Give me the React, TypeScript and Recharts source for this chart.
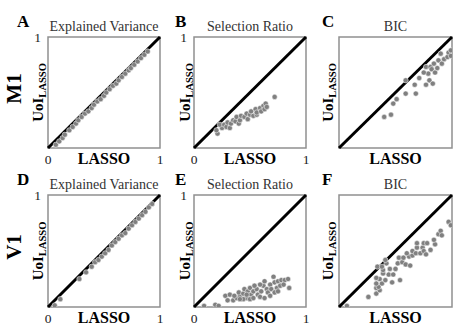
import React from "react";
import { ScatterChart, Scatter, XAxis, YAxis, ReferenceArea, ReferenceLine } from "recharts";

type Pt = [number, number];

// [LASSO, UoI_LASSO] pairs
const evM1: Pt[] = [
  [0.07, 0.03], [0.10, 0.06], [0.13, 0.09], [0.15, 0.12], [0.19, 0.16], [0.22, 0.19],
  [0.25, 0.22], [0.27, 0.25], [0.30, 0.28], [0.33, 0.31], [0.36, 0.33], [0.39, 0.36],
  [0.41, 0.39], [0.44, 0.42], [0.47, 0.44], [0.50, 0.47], [0.52, 0.50], [0.55, 0.53],
  [0.58, 0.56], [0.61, 0.58], [0.63, 0.61], [0.66, 0.64], [0.69, 0.67], [0.72, 0.70],
  [0.74, 0.72], [0.77, 0.75], [0.80, 0.78], [0.83, 0.81], [0.86, 0.84], [0.89, 0.87],
];

const srM1: Pt[] = [
  [0.21, 0.13], [0.20, 0.16], [0.25, 0.18], [0.23, 0.21], [0.27, 0.21], [0.29, 0.19],
  [0.30, 0.23], [0.32, 0.18], [0.33, 0.22], [0.35, 0.25], [0.37, 0.24], [0.38, 0.28],
  [0.40, 0.22], [0.41, 0.25], [0.42, 0.29], [0.45, 0.28], [0.47, 0.31], [0.48, 0.26],
  [0.50, 0.30], [0.51, 0.33], [0.53, 0.29], [0.55, 0.35], [0.56, 0.30], [0.56, 0.32],
  [0.59, 0.36], [0.60, 0.33], [0.62, 0.38], [0.63, 0.35], [0.64, 0.40], [0.65, 0.37],
  [0.72, 0.46],
];

const bicM1: Pt[] = [
  [0.40, 0.28], [0.46, 0.30], [0.48, 0.40], [0.51, 0.44], [0.59, 0.49], [0.68, 0.49],
  [0.59, 0.61], [0.67, 0.57], [0.71, 0.63], [0.77, 0.57], [0.80, 0.61], [0.83, 0.58],
  [0.79, 0.67], [0.75, 0.68], [0.77, 0.73], [0.81, 0.73], [0.82, 0.71], [0.84, 0.76],
  [0.85, 0.68], [0.87, 0.72], [0.88, 0.79], [0.91, 0.76], [0.90, 0.85], [0.93, 0.80],
  [0.96, 0.82], [0.97, 0.86], [0.99, 0.83], [0.99, 0.88],
];

const evV1: Pt[] = [
  [0.06, 0.015], [0.11, 0.07], [0.28, 0.25], [0.34, 0.31], [0.39, 0.36], [0.42, 0.40],
  [0.45, 0.42], [0.48, 0.45], [0.51, 0.48], [0.54, 0.51], [0.57, 0.55], [0.60, 0.58],
  [0.63, 0.61], [0.66, 0.64], [0.69, 0.66], [0.72, 0.70], [0.75, 0.73], [0.78, 0.76],
  [0.81, 0.79], [0.84, 0.82], [0.87, 0.85], [0.90, 0.89], [0.93, 0.92],
];

const srV1: Pt[] = [
  [0.09, 0.01], [0.19, 0.02], [0.22, 0.01], [0.28, 0.10], [0.32, 0.11], [0.30, 0.06],
  [0.35, 0.06], [0.38, 0.08], [0.41, 0.10], [0.40, 0.13], [0.44, 0.12], [0.45, 0.16],
  [0.48, 0.14], [0.50, 0.17], [0.51, 0.11], [0.53, 0.14], [0.47, 0.08], [0.44, 0.07],
  [0.56, 0.16], [0.57, 0.11], [0.60, 0.14], [0.62, 0.19], [0.63, 0.23], [0.65, 0.16],
  [0.66, 0.13], [0.68, 0.20], [0.69, 0.16], [0.71, 0.27], [0.72, 0.22], [0.74, 0.17],
  [0.75, 0.23], [0.77, 0.19], [0.78, 0.24], [0.81, 0.24], [0.84, 0.25], [0.85, 0.17],
  [0.50, 0.07], [0.53, 0.08], [0.59, 0.09], [0.63, 0.08], [0.68, 0.10], [0.59, 0.20],
  [0.54, 0.19], [0.47, 0.11], [0.36, 0.10], [0.41, 0.07], [0.72, 0.13], [0.75, 0.14],
  [0.80, 0.20],
];

const bicV1: Pt[] = [
  [0.07, 0.01], [0.26, 0.09], [0.33, 0.12], [0.36, 0.15], [0.33, 0.17], [0.35, 0.18],
  [0.33, 0.21], [0.38, 0.21], [0.36, 0.25], [0.33, 0.26], [0.41, 0.24], [0.47, 0.22],
  [0.54, 0.24], [0.44, 0.29], [0.48, 0.29], [0.39, 0.30], [0.45, 0.34], [0.39, 0.33],
  [0.50, 0.34], [0.34, 0.36], [0.38, 0.36], [0.42, 0.39], [0.41, 0.42], [0.52, 0.39],
  [0.56, 0.40], [0.59, 0.38], [0.63, 0.37], [0.53, 0.44], [0.57, 0.44], [0.62, 0.45],
  [0.65, 0.46], [0.60, 0.48], [0.65, 0.50], [0.68, 0.48], [0.69, 0.53], [0.69, 0.57],
  [0.74, 0.53], [0.75, 0.57], [0.78, 0.57], [0.72, 0.48], [0.75, 0.50], [0.77, 0.47],
  [0.81, 0.51], [0.85, 0.56], [0.84, 0.60], [0.88, 0.65], [0.90, 0.68], [0.91, 0.64],
  [0.97, 0.76], [0.99, 0.73],
];

const rowLabels = ["M1", "V1"];
const panelLetters = ["A", "B", "C", "D", "E", "F"];
const panelTitles = ["Explained Variance", "Selection Ratio", "BIC"];

const M = 20;
const SERIF = "'Liberation Serif', 'DejaVu Serif', serif";
const colLeft = [48, 194, 339];
const colWidth = [112, 112, 113];
const rowTop = [37, 195];
const rowHeight = [111, 112];

const Dot = (p: any) => (
  <circle cx={p.cx} cy={p.cy} r={2.6} fill="#808080" stroke="#ffffff" strokeWidth={0.5} />
);

function Panel({ row, col, data, ticks }: { row: number; col: number; data: Pt[]; ticks: boolean }) {
  const w = colWidth[col];
  const h = rowHeight[row];
  const pts = data.map(([x, y]) => ({ lasso: x, uoi: y }));
  const margin = ticks ? { top: M, right: M, bottom: 0, left: 0 } : { top: M, right: M, bottom: M, left: M };
  return (
    <div style={{ position: "absolute", left: colLeft[col] - M, top: rowTop[row] - M }}>
      <ScatterChart width={w + 2 * M} height={h + 2 * M} margin={margin} style={{ overflow: "visible" }}>
        <XAxis
          type="number"
          dataKey="lasso"
          domain={[0, 1]}
          ticks={[0, 1]}
          hide={!ticks}
          height={M}
          axisLine={false}
          tickLine={false}
          allowDataOverflow
          tick={(t: any) => (
            <text x={t.x} y={h + M + 16} textAnchor="middle" fontFamily={SERIF} fontSize={13.5} fill="#222">
              {t.payload.value}
            </text>
          )}
        />
        <YAxis
          type="number"
          dataKey="uoi"
          domain={[0, 1]}
          ticks={[1]}
          hide={!ticks}
          width={M}
          axisLine={false}
          tickLine={false}
          allowDataOverflow
          tick={(t: any) => (
            <text x={M - 7} y={t.y + 5} textAnchor="end" fontFamily={SERIF} fontSize={13.5} fill="#222">
              {t.payload.value}
            </text>
          )}
        />
        <ReferenceArea x1={0} x2={1} y1={0} y2={1} fill="none" fillOpacity={0} stroke="#909090" strokeWidth={1.5} />
        <Scatter data={pts} isAnimationActive={false} shape={Dot} />
        <ReferenceLine segment={[{ x: 0, y: 0 }, { x: 1, y: 1 }]} stroke="#000" strokeWidth={3} />
      </ScatterChart>
    </div>
  );
}

export default function App() {
  const series = [
    [evM1, srM1, bicM1],
    [evV1, srV1, bicV1],
  ];
  return (
    <div style={{ position: "absolute", left: 0, top: 0, width: 453, height: 328, background: "#fff", overflow: "hidden" }}>
      {series.map((rowData, r) =>
        rowData.map((d, c) => <Panel key={`${r}-${c}`} row={r} col={c} data={d} ticks={c < 2} />)
      )}
      <svg width={453} height={328} style={{ position: "absolute", left: 0, top: 0, pointerEvents: "none" }}>
        {rowTop.map((top, r) => {
          const bottom = top + rowHeight[r];
          const midY = (top + bottom) / 2;
          return (
            <g key={r} fontFamily={SERIF}>
              <text transform={`translate(21, ${midY - 4}) rotate(-90)`} textAnchor="middle" fontSize={21} fontWeight="bold" fill="#000">
                {rowLabels[r]}
              </text>
              {colLeft.map((left, c) => {
                const cx = left + colWidth[c] / 2;
                return (
                  <g key={c}>
                    <text x={[17, 175, 322][c]} y={top - 10} fontSize={17} fontWeight="bold" fill="#000">
                      {panelLetters[r * 3 + c]}
                    </text>
                    <text x={cx} y={top - 6.5} textAnchor="middle" fontSize={14} fill="#333">
                      {panelTitles[c]}
                    </text>
                    <text x={cx} y={bottom + 15.5} textAnchor="middle" fontSize={16} fontWeight="bold" fill="#000">
                      LASSO
                    </text>
                    <text
                      transform={`translate(${[43, 190, 333][c]}, ${midY}) rotate(-90)`}
                      textAnchor="middle"
                      fontWeight="bold"
                      fill="#000"
                    >
                      <tspan fontSize={15}>UoI</tspan>
                      <tspan fontSize={10.5} dy={2.5}>LASSO</tspan>
                    </text>
                  </g>
                );
              })}
            </g>
          );
        })}
      </svg>
    </div>
  );
}
